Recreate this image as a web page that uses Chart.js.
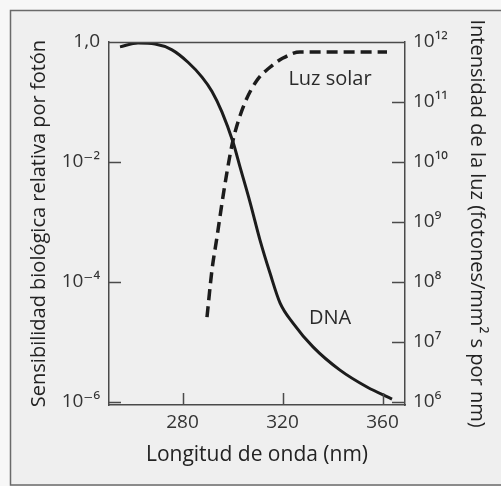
<!DOCTYPE html>
<html>
<head>
<meta charset="utf-8">
<script src="https://cdn.jsdelivr.net/npm/chart.js@4/dist/chart.umd.min.js"></script>
<style>
  html, body { margin: 0; padding: 0; background: #f4f4f4; }
  #wrap { width: 501px; height: 486px; position: relative; }
</style>
</head>
<body>
<div id="wrap"><canvas id="c" width="501" height="486"></canvas></div>
<script>
// ---- data ----
const dnaWavelength = [255.0, 262.2, 269.0, 275.8, 282.2, 287.8, 291.8, 295.8, 300.2, 303.0, 307.0, 311.0, 315.0, 319.0, 324.2, 332.2, 343.0, 353.8, 363.8];
const dnaSensitivity = [0.83, 0.96, 0.93, 0.74, 0.46, 0.26, 0.15, 0.068, 0.0215, 0.0083, 0.00215, 5.0e-4, 1.41e-4, 4.5e-5, 2.07e-5, 8.3e-6, 3.4e-6, 1.78e-6, 1.12e-6];

const solarWavelength = [289.8, 291.8, 293.8, 295.8, 297.8, 300.2, 304.6, 309.8, 315.0, 320.2, 327.0, 361.8];
const solarIntensity = [2.6e7, 1.6e8, 5.6e8, 2.07e9, 6.8e9, 2.3e10, 8.9e10, 2.3e11, 3.8e11, 5.4e11, 6.8e11, 6.8e11];

const xTicks = [280, 320, 360];
const leftTicks = [1e-6, 1e-4, 1e-2, 1];
const leftTickLabels = ['10\u207B\u2076', '10\u207B\u2074', '10\u207B\u00B2', '1,0'];
const rightTicks = [1e6, 1e7, 1e8, 1e9, 1e10, 1e11, 1e12];
const rightTickLabels = ['10\u2076', '10\u2077', '10\u2078', '10\u2079', '10\u00B9\u2070', '10\u00B9\u00B9', '10\u00B9\u00B2'];

const seriesLabels = ['DNA', 'Luz solar'];
const xTitle = 'Longitud de onda (nm)';
const leftTitle = 'Sensibilidad biológica relativa por fotón';
const rightTitle = 'Intensidad de la luz (fotones/mm\u00B2 s por nm)';

// ---- chart ----
const FONT = '"Open Sans", "DejaVu Sans", sans-serif';
const INK = '#1c1c1c';
const AXIS = '#4a4a4a';

const dnaData = dnaWavelength.map((x, i) => ({ x: x, y: dnaSensitivity[i] }));
const solarData = solarWavelength.map((x, i) => ({ x: x, y: solarIntensity[i] }));

const decor = {
  id: 'decor',
  beforeDraw(chart) {
    const c = chart.ctx;
    c.save();
    c.fillStyle = '#f7f7f7';
    c.fillRect(0, 0, chart.width, chart.height);
    c.fillStyle = '#efefef';
    c.fillRect(10, 10, chart.width, chart.height);
    c.strokeStyle = '#6a6a6a';
    c.lineWidth = 1.5;
    c.strokeRect(10.5, 10.5, chart.width + 20, chart.height - 11.5);
    c.restore();
  },
  afterDraw(chart) {
    const c = chart.ctx;
    const a = chart.chartArea;
    const sx = chart.scales.x, sy = chart.scales.y, sy2 = chart.scales.y2;
    c.save();
    c.strokeStyle = AXIS;
    c.lineWidth = 1.5;
    // top border
    c.beginPath();
    c.moveTo(a.left, a.top + 0.5);
    c.lineTo(a.right, a.top + 0.5);
    c.stroke();
    // inward ticks
    c.beginPath();
    sy.ticks.forEach(t => {
      const y = Math.round(sy.getPixelForValue(t.value)) + 0.5;
      if (t.value === 1) return;
      c.moveTo(a.left, y); c.lineTo(a.left + 12, y);
    });
    sy2.ticks.forEach(t => {
      const y = Math.round(sy2.getPixelForValue(t.value)) + 0.5;
      if (t.value === 1e12) return;
      c.moveTo(a.right, y); c.lineTo(a.right - 13, y);
    });
    sx.ticks.forEach(t => {
      const x = Math.round(sx.getPixelForValue(t.value)) + 0.5;
      c.moveTo(x, a.bottom); c.lineTo(x, a.bottom - 12);
    });
    c.stroke();
    // series labels
    c.fillStyle = '#2a2a2a';
    c.font = '20px ' + FONT;
    c.textAlign = 'center';
    c.textBaseline = 'middle';
    c.fillText(seriesLabels[1], sx.getPixelForValue(339), sy2.getPixelForValue(2.4e11));
    c.fillText(seriesLabels[0], sx.getPixelForValue(339), sy.getPixelForValue(2.5e-5));
    c.restore();
  }
};

new Chart(document.getElementById('c'), {
  type: 'line',
  data: {
    datasets: [
      {
        label: seriesLabels[0],
        data: dnaData,
        yAxisID: 'y',
        borderColor: INK,
        borderWidth: 3,
        pointRadius: 0,
        fill: false,
        cubicInterpolationMode: 'monotone'
      },
      {
        label: seriesLabels[1],
        data: solarData,
        yAxisID: 'y2',
        borderColor: INK,
        borderWidth: 3.5,
        borderDash: [11, 6],
        pointRadius: 0,
        fill: false,
        cubicInterpolationMode: 'monotone'
      }
    ]
  },
  options: {
    responsive: false,
    animation: false,
    events: [],
    layout: { padding: { top: 42, left: 0, right: 0, bottom: 0 } },
    plugins: { legend: { display: false }, tooltip: { enabled: false } },
    scales: {
      x: {
        type: 'linear',
        min: 250.6,
        max: 369,
        afterBuildTicks: s => { s.ticks = xTicks.map(v => ({ value: v })); },
        afterFit: s => { s.height = 81; },
        grid: { display: false, drawTicks: false },
        border: { display: true, color: AXIS, width: 1.5 },
        ticks: { color: '#333', font: { family: FONT, size: 19 }, padding: 6, callback: v => String(v) },
        title: { display: true, text: xTitle, color: '#222', font: { family: FONT, size: 21 }, padding: { top: 4, bottom: 18.5 } }
      },
      y: {
        type: 'logarithmic',
        position: 'left',
        min: Math.pow(10, -6.05),
        max: 1,
        afterBuildTicks: s => { s.ticks = leftTicks.map(v => ({ value: v })); },
        afterFit: s => { s.width = 109; },
        grid: { display: false, drawTicks: false },
        border: { display: true, color: AXIS, width: 1.5 },
        ticks: {
          color: '#333', font: { family: FONT, size: 19 }, padding: 9,
          callback: (v) => { const i = leftTicks.indexOf(v); return i >= 0 ? leftTickLabels[i] : ''; }
        },
        title: { display: true, text: leftTitle, color: '#222', font: { family: FONT, size: 20 }, padding: { top: 27.5, bottom: 0 } }
      },
      y2: {
        type: 'logarithmic',
        position: 'right',
        min: Math.pow(10, 5.95),
        max: 1e12,
        afterBuildTicks: s => { s.ticks = rightTicks.map(v => ({ value: v })); },
        afterFit: s => { s.width = 96; },
        grid: { display: false, drawTicks: false },
        border: { display: true, color: AXIS, width: 1.5 },
        ticks: {
          color: '#333', font: { family: FONT, size: 19 }, padding: 8,
          callback: (v) => { const i = rightTicks.indexOf(v); return i >= 0 ? rightTickLabels[i] : ''; }
        },
        title: { display: true, text: rightTitle, color: '#222', font: { family: FONT, size: 20 }, padding: { top: 12, bottom: 0 } }
      }
    }
  },
  plugins: [decor]
});
</script>
</body>
</html>
